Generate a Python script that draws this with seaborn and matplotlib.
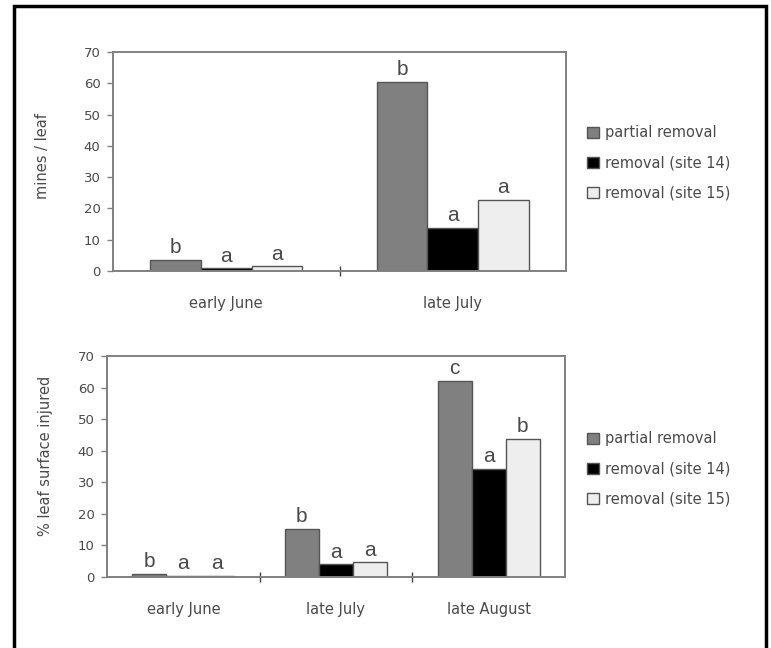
import pandas as pd
import seaborn as sns
import matplotlib.pyplot as plt
from matplotlib.patches import Rectangle
from matplotlib.ticker import FixedLocator

treatments = ["partial removal", "removal (site 14)", "removal (site 15)"]
colori = ["#808080", "#000000", "#eeeeee"]

# pannello superiore: mine per foglia
cat_top = ["early June", "late July"]
mines_partial = [3.5, 60.5]
mines_site14 = [0.8, 13.7]
mines_site15 = [1.5, 22.8]
lettere_top = [["b", "b"], ["a", "a"], ["a", "a"]]

# pannello inferiore: % superficie fogliare danneggiata
cat_bot = ["early June", "late July", "late August"]
injury_partial = [1.0, 15.2, 62.2]
injury_site14 = [0.3, 4.0, 34.3]
injury_site15 = [0.3, 4.6, 43.8]
lettere_bot = [["b", "b", "c"], ["a", "a", "a"], ["a", "a", "b"]]


def long_df(cats, serie):
    rows = []
    for tr, vals in zip(treatments, serie):
        for c, v in zip(cats, vals):
            rows.append({"periodo": c, "trattamento": tr, "valore": v})
    return pd.DataFrame(rows)


df_top = long_df(cat_top, [mines_partial, mines_site14, mines_site15])
df_bot = long_df(cat_bot, [injury_partial, injury_site14, injury_site15])

sns.set_style("white")
plt.rcParams["font.family"] = ["DejaVu Sans"]
testo = "#4a4a4a"
grigio = "#808080"
fs = 10.5

fig = plt.figure(figsize=(7.71, 6.48), dpi=100)
ax1 = fig.add_axes([113 / 771, 1 - 271 / 648, 453 / 771, 219 / 648])
ax2 = fig.add_axes([107 / 771, 1 - 577 / 648, 458 / 771, 221 / 648])


def pannello(ax, df, cats, lettere, ylabel, ylab_x, ylab_y, leg_y):
    sns.barplot(data=df, x="periodo", y="valore", hue="trattamento",
                order=cats, hue_order=treatments, palette=colori,
                width=0.67, edgecolor="#555555", linewidth=1.0,
                saturation=1, errorbar=None, ax=ax)
    for cont, lab in zip(ax.containers, lettere):
        ax.bar_label(cont, labels=lab, padding=2, fontsize=15, color=testo,
                     fontfamily="Liberation Sans")
    ax.set_ylim(0, 70)
    ax.set_yticks(range(0, 71, 10))
    ax.set_xlim(-0.5, len(cats) - 0.5)
    ax.set_xlabel("")
    ax.set_ylabel(ylabel, fontsize=fs, color=testo)
    ax.yaxis.set_label_coords(ylab_x, ylab_y)
    for s in ax.spines.values():
        s.set_visible(True)
        s.set_color(grigio)
        s.set_linewidth(1.4)
    ax.tick_params(axis="y", left=True, length=4, width=1, color=grigio,
                   labelsize=9.5, labelcolor=testo, pad=5)
    ax.tick_params(axis="x", which="major", length=0, labelsize=fs,
                   labelcolor=testo, pad=18)
    ax.xaxis.set_minor_locator(FixedLocator([i + 0.5 for i in range(len(cats) - 1)]))
    ax.tick_params(axis="x", which="minor", bottom=True, direction="inout",
                   length=7, width=1, color="#444444")
    handles, labels = ax.get_legend_handles_labels()
    ax.get_legend().remove()
    fig.legend(handles, labels, loc="center left",
               bbox_to_anchor=(587 / 771, 1 - leg_y / 648), frameon=False,
               fontsize=fs, labelcolor=testo, handlelength=0.8,
               handleheight=0.8, handletextpad=0.45, labelspacing=1.05,
               borderpad=0, borderaxespad=0)


pannello(ax1, df_top, cat_top, lettere_top, "mines / leaf", -0.14, 0.525, 163)
pannello(ax2, df_bot, cat_bot, lettere_bot, "% leaf surface injured", -0.118, 0.548, 469)

# cornice nera attorno alla figura (aperta in basso)
fig.patches.append(Rectangle((14 / 771, -0.05), 752 / 771, 1.05 - 6 / 648,
                             transform=fig.transFigure, fill=False,
                             edgecolor="black", linewidth=2.5, zorder=10))

fig.savefig("out.png", dpi=100, facecolor="white")
